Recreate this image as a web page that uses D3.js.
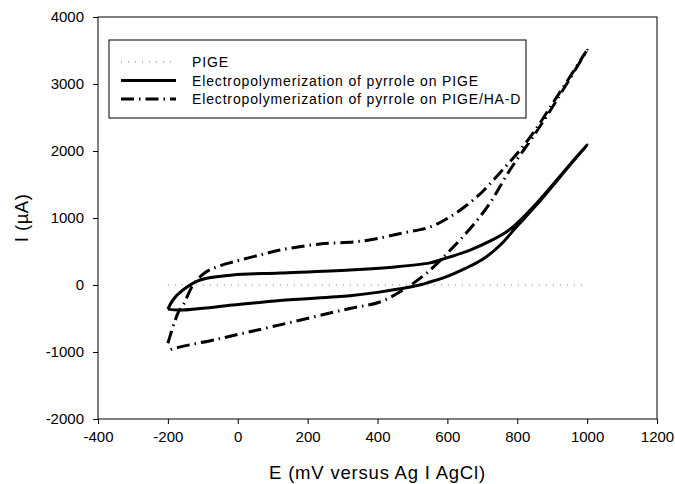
<!DOCTYPE html>
<html>
<head>
<meta charset="utf-8">
<script src="https://cdn.jsdelivr.net/npm/d3@7"></script>
<style>
  body { margin: 0; background: #fff; }
  text { font-family: "Liberation Sans", Arial, sans-serif; }
</style>
</head>
<body>
<script>
// Values
var xTicks = [-400, -200, 0, 200, 400, 600, 800, 1000, 1200];
var yTicks = [-2000, -1000, 0, 1000, 2000, 3000, 4000];

var pigeE = [-200, 1000];
var pigeI = [0, 0];

var pyrE = [-200, -185, -157, -108, -14, 121, 321, 450, 550, 579, 665, 720, 779, 856, 951, 1000,
            951, 856, 800, 750, 700, 650, 600, 550, 520, 400, 321, 121, -14, -165, -200];
var pyrI = [-360, -220, -75, 75, 150, 179, 224, 270, 330, 373, 522, 650, 830, 1224, 1800, 2090,
            1790, 1200, 880, 590, 380, 245, 130, 45, 0, -110, -160, -230, -300, -373, -360];

var hadE = [-200, -171, -156, -128, -95, -60, -14, 64, 121, 235, 358, 473, 550, 607, 684, 750, 808, 850, 900, 950, 1000,
            900, 850, 779, 722, 674, 617, 541, 473, 407, 321, 100, -60, -194, -200];
var hadI = [-870, -418, -298, 0, 180, 269, 343, 448, 522, 612, 657, 776, 866, 1015, 1313, 1672, 2015, 2300, 2700, 3100, 3507,
            2650, 2250, 1716, 1224, 895, 567, 179, -75, -254, -350, -620, -810, -970, -1000];

var labels = ["PIGE", "Electropolymerization of pyrrole on PIGE", "Electropolymerization of pyrrole on PIGE/HA-D"];

var W = 675, H = 484;
var m = { left: 98, right: 657, top: 17, bottom: 419 };

var svg = d3.select("body").append("svg")
    .attr("width", W)
    .attr("height", H);

var x = d3.scaleLinear().domain([-400, 1200]).range([m.left, m.right]);
var y = d3.scaleLinear().domain([-2000, 4000]).range([m.bottom, m.top]);

// frame
svg.append("rect")
    .attr("x", m.left).attr("y", m.top)
    .attr("width", m.right - m.left).attr("height", m.bottom - m.top)
    .attr("fill", "none").attr("stroke", "#000").attr("stroke-width", 1);

var fmt = function(d) { return String(d); };
var xAxis = svg.append("g")
    .attr("transform", "translate(0," + m.bottom + ")")
    .call(d3.axisBottom(x).tickValues(xTicks).tickSize(5).tickPadding(7).tickFormat(fmt));
var yAxis = svg.append("g")
    .attr("transform", "translate(" + m.left + ",0)")
    .call(d3.axisLeft(y).tickValues(yTicks).tickSize(5).tickPadding(9).tickFormat(fmt));

[xAxis, yAxis].forEach(function(g) {
    g.select(".domain").remove();
    g.selectAll("line").attr("stroke", "#000");
    g.selectAll("text").attr("font-size", 15).attr("fill", "#000")
        .style("font-family", "Liberation Sans, Arial, sans-serif");
});

// axis titles
svg.append("text")
    .attr("x", (m.left + m.right) / 2).attr("y", 479)
    .attr("text-anchor", "middle").attr("font-size", 18.5)
    .attr("letter-spacing", 0.8)
    .text("E (mV versus Ag I AgCl)");
svg.append("text")
    .attr("transform", "translate(28," + (m.top + m.bottom) / 2 + ") rotate(-90)")
    .attr("text-anchor", "middle").attr("font-size", 18.5)
    .attr("letter-spacing", 0.5)
    .text("I (µA)");

var line = d3.line()
    .x(function(d) { return x(d[0]); })
    .y(function(d) { return y(d[1]); })
    .curve(d3.curveCatmullRom.alpha(0.5));

function pts(e, i) { return e.map(function(v, k) { return [v, i[k]]; }); }

var styles = [
    { stroke: "#777", width: 1, dash: "1,6" },
    { stroke: "#000", width: 3, dash: null },
    { stroke: "#000", width: 3, dash: "13,5,1.5,5" }
];

var series = [pts(pigeE, pigeI), pts(pyrE, pyrI), pts(hadE, hadI)];

series.forEach(function(s, k) {
    svg.append("path")
        .attr("d", line(s))
        .attr("fill", "none")
        .attr("stroke", styles[k].stroke)
        .attr("stroke-width", styles[k].width)
        .attr("stroke-dasharray", styles[k].dash);
});

// legend
var leg = svg.append("g");
leg.append("rect")
    .attr("x", 109).attr("y", 40).attr("width", 417).attr("height", 78)
    .attr("fill", "#fff").attr("stroke", "#000").attr("stroke-width", 1);
labels.forEach(function(t, k) {
    var ly = 62 + k * 18.5;
    leg.append("line")
        .attr("x1", 121).attr("x2", 176).attr("y1", ly).attr("y2", ly)
        .attr("stroke", styles[k].stroke)
        .attr("stroke-width", styles[k].width)
        .attr("stroke-dasharray", styles[k].dash);
    leg.append("text")
        .attr("x", 192).attr("y", ly + 5)
        .attr("font-size", 14)
        .attr("letter-spacing", 0.85)
        .text(t);
});
</script>
</body>
</html>
